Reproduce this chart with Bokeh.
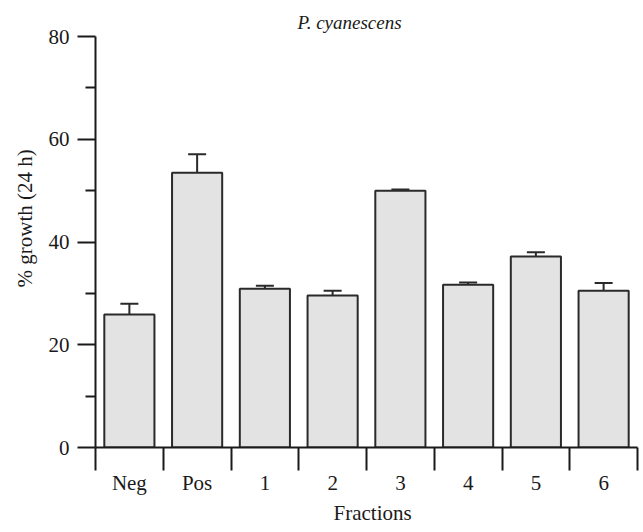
from bokeh.plotting import figure
from bokeh.models import Range1d, FixedTicker, Whisker, TeeHead, ColumnDataSource, Title
from bokeh.embed import file_html
from bokeh.resources import INLINE

# ---- data ----
categories = ["Neg", "Pos", "1", "2", "3", "4", "5", "6"]
means = [25.9, 53.5, 30.9, 29.6, 50.0, 31.7, 37.2, 30.5]
errors = [2.1, 3.6, 0.6, 0.9, 0.2, 0.4, 0.8, 1.5]
y_ticks = [0, 20, 40, 60, 80]
y_minor_ticks = [10, 30, 50, 70]
title_text = "P. cyanescens"
y_label = "% growth (24 h)"
x_label = "Fractions"

FONT = "Liberation Serif"
INK = "#1a1a1a"
n = len(categories)
centers = [i + 0.5 for i in range(n)]
bounds = list(range(n + 1))
uppers = [m + e for m, e in zip(means, errors)]

src = ColumnDataSource(dict(x=centers, top=means, upper=uppers, cat=categories))

p = figure(width=643, height=532, output_backend="svg", toolbar_location=None,
           x_range=Range1d(0, n), y_range=Range1d(0, 80),
           min_border_left=95, min_border_right=6, min_border_top=36, min_border_bottom=85)
p.outline_line_color = None
p.grid.visible = False
p.background_fill_color = "white"
p.border_fill_color = "white"

p.vbar(x="x", top="top", bottom=0, width=0.74, source=src,
       fill_color="#e3e3e3", line_color="#2a2a2a", line_width=2)

w = Whisker(base="x", upper="upper", lower="top", source=src, dimension="height",
            line_color="#2a2a2a", line_width=2,
            upper_head=TeeHead(size=18, line_color="#2a2a2a", line_width=2),
            lower_head=None)
p.add_layout(w)

# y axis
ya = p.yaxis[0]
ya.ticker = FixedTicker(ticks=y_ticks, minor_ticks=y_minor_ticks)
ya.axis_line_width = 2
ya.axis_line_color = INK
ya.major_tick_line_width = 2
ya.major_tick_line_color = INK
ya.minor_tick_line_width = 2
ya.minor_tick_line_color = INK
ya.major_tick_out = 18
ya.major_tick_in = 0
ya.minor_tick_out = 10
ya.minor_tick_in = 0
ya.major_label_standoff = 8
ya.major_label_text_font = FONT
ya.major_label_text_font_size = "21px"
ya.major_label_text_color = INK

# x axis: boundary ticks as minor ticks, labels at centers
xa = p.xaxis[0]
xa.ticker = FixedTicker(ticks=centers, minor_ticks=bounds)
xa.major_label_overrides = {c: lab for c, lab in zip(centers, categories)}
xa.axis_line_width = 2
xa.axis_line_color = INK
xa.major_tick_line_color = None
xa.major_tick_out = 19
xa.major_tick_in = 0
xa.minor_tick_line_width = 2
xa.minor_tick_line_color = INK
xa.minor_tick_out = 23
xa.minor_tick_in = 0
xa.major_label_standoff = 0
xa.major_label_text_font = FONT
xa.major_label_text_font_size = "21px"
xa.major_label_text_color = INK

# titles as side panels
p.add_layout(Title(text=title_text, align="left", offset=202, standoff=7,
                   text_font=FONT, text_font_style="italic", text_font_size="19px",
                   text_color=INK), "above")
p.add_layout(Title(text=y_label, align="left", offset=160, standoff=18,
                   text_font=FONT, text_font_style="normal", text_font_size="21px",
                   text_color=INK), "left")
p.add_layout(Title(text=x_label, align="left", offset=238, standoff=2,
                   text_font=FONT, text_font_style="normal", text_font_size="21px",
                   text_color=INK), "below")

open("out.html", "w").write(file_html(p, INLINE))
